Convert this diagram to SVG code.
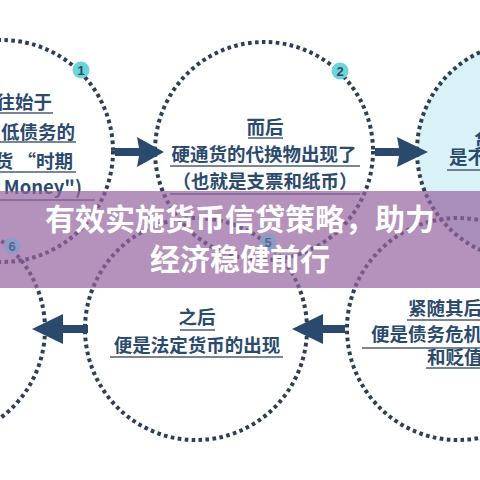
<svg xmlns="http://www.w3.org/2000/svg" width="480" height="480" viewBox="0 0 480 480">
<style>
.ring{fill:none;stroke:#2d3e55;stroke-width:4;stroke-dasharray:3.6 3.4}
.t{font-family:"Noto Sans CJK SC","Noto Sans",sans-serif;font-weight:700;font-size:18.5px;fill:#2b4a6e}
.ul{stroke:#4a5d75;stroke-width:1.3}
.arrow{fill:#2a4a6d}
.badge{fill:#6dd5d8}
.badge2{fill:#8c9cc6}
.bn{font-family:"Liberation Sans","Noto Sans",sans-serif;font-weight:700;font-size:13px;fill:#2b4a6e;text-anchor:middle}
.bn2{font-family:"Liberation Sans","Noto Sans",sans-serif;font-weight:700;font-size:13px;fill:#56638f;text-anchor:middle}
.title{font-family:"Noto Sans CJK SC","Noto Sans",sans-serif;font-weight:700;font-size:30px;fill:#ffffff;text-anchor:middle}
</style>
<rect width="480" height="480" fill="#ffffff"/>
<g id="node3">
<circle cx="526" cy="151" r="109" fill="#d8f2f8"/>
<circle class="ring" cx="526" cy="151" r="109"/>
<text class="t" x="474" y="148">货</text>
<text class="t" x="449" y="164">是不</text>
<line class="ul" x1="447" y1="170" x2="480" y2="170"/>
</g>
<g id="node1">
<circle class="ring" cx="2" cy="151" r="111"/>
<text class="t" x="52" y="109" text-anchor="end">往始于</text>
<line class="ul" x1="0" y1="113" x2="53" y2="113"/>
<text class="t" x="75" y="139" text-anchor="end">低债务的</text>
<line class="ul" x1="0" y1="142" x2="76" y2="142"/>
<text class="t" x="73" y="168" text-anchor="end">货 “时期</text>
<line class="ul" x1="0" y1="172" x2="76" y2="172"/>
<text class="t" x="82" y="194" text-anchor="end">Money")</text>
<line class="ul" x1="0" y1="200" x2="95" y2="200"/>
<circle class="badge" cx="81" cy="70" r="8.5"/>
<text class="bn" x="81" y="75">1</text>
</g>
<g id="node2">
<circle class="ring" cx="264" cy="151" r="109"/>
<text class="t" x="265" y="134" text-anchor="middle">而后</text>
<line class="ul" x1="248" y1="138" x2="283" y2="138"/>
<text class="t" x="264" y="161" text-anchor="middle">硬通货的代换物出现了</text>
<line class="ul" x1="170" y1="166" x2="360" y2="166"/>
<text class="t" x="265" y="188" text-anchor="middle">（也就是支票和纸币）</text>
<line class="ul" x1="170" y1="194" x2="360" y2="194"/>
<circle class="badge" cx="340" cy="71" r="8.5"/>
<text class="bn" x="340" y="76">2</text>
</g>
<g id="node4">
<circle class="ring" cx="458" cy="329" r="111"/>
<text class="t" x="408" y="315">紧随其后</text>
<line class="ul" x1="407" y1="320" x2="480" y2="320"/>
<text class="t" x="371" y="341">便是债务危机</text>
<line class="ul" x1="362" y1="348" x2="480" y2="348"/>
<text class="t" x="427" y="364">和贬值</text>
<line class="ul" x1="426" y1="368" x2="480" y2="368"/>
</g>
<g id="node5">
<circle class="ring" cx="196" cy="329" r="111"/>
<text class="t" x="197" y="324" text-anchor="middle">之后</text>
<line class="ul" x1="180" y1="330" x2="215" y2="330"/>
<text class="t" x="197" y="352" text-anchor="middle">便是法定货币的出现</text>
<line class="ul" x1="110" y1="357" x2="283" y2="357"/>
</g>
<g id="node6">
<circle class="ring" cx="-66" cy="329" r="111"/>
</g>
<g id="connectors">
<polygon class="arrow" points="115,148 139,148 137,137 164,152 137,167 139,156 115,156"/>
<polygon class="arrow" points="375,148 399,148 397,137 428,152 397,167 399,156 375,156"/>
<polygon class="arrow" points="88,325 63,325 63,314 32,329 63,344 63,333 88,333"/>
<polygon class="arrow" points="345,325 323,325 323,314 292,329 323,344 323,333 345,333"/>
</g>
<g id="banner">
<rect x="0" y="191" width="480" height="97" fill="rgb(150,100,160)" fill-opacity="0.7"/>
</g>
<g id="badge5">
<circle class="badge2" cx="268" cy="242" r="8.5"/>
<text class="bn2" x="268" y="247">5</text>
</g>
<g id="badge6">
<circle class="badge2" cx="12" cy="246" r="8.5"/>
<text class="bn2" x="12" y="251">6</text>
</g>
<g id="title">
<text class="title" x="240" y="230">有效实施货币信贷策略，助力</text>
<text class="title" x="240" y="270">经济稳健前行</text>
</g>
</svg>
